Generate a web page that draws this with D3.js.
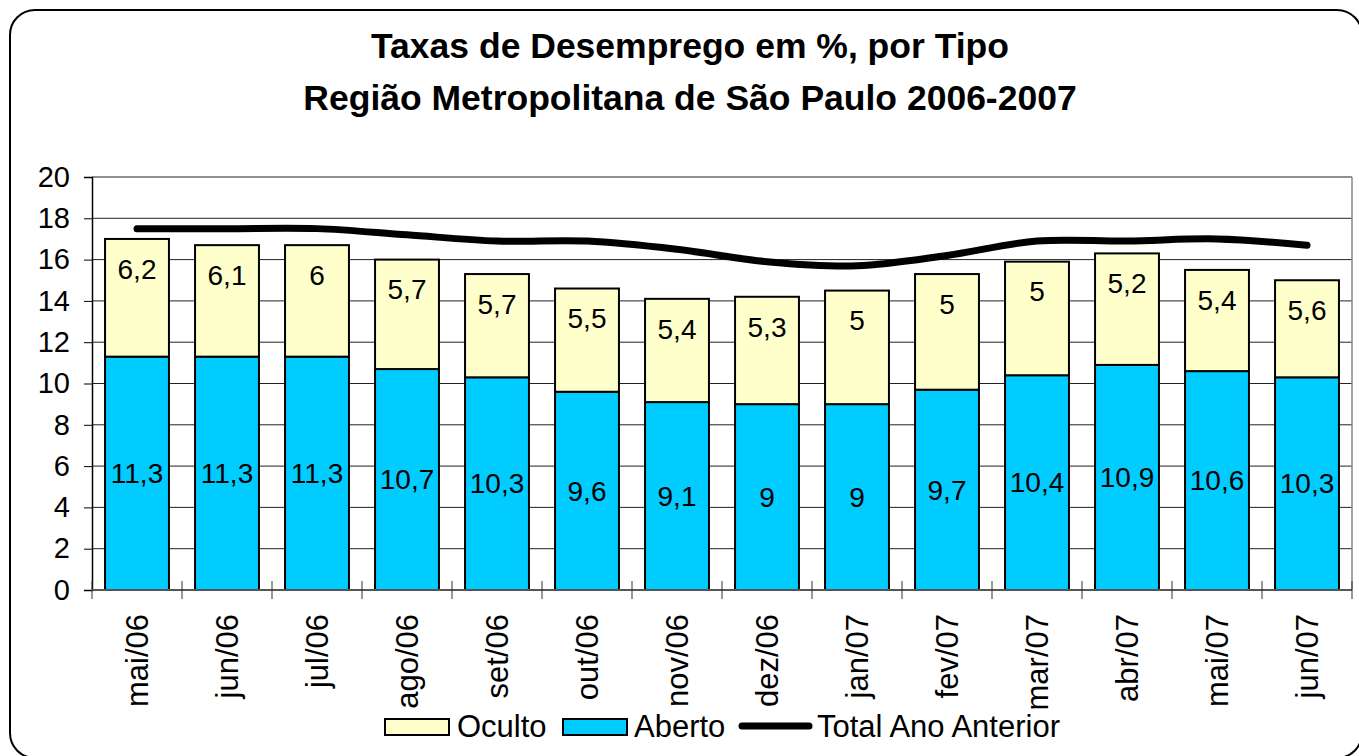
<!DOCTYPE html>
<html>
<head>
<meta charset="utf-8">
<script src="https://cdn.jsdelivr.net/npm/d3@7"></script>
<style>
  body { margin: 0; background: #fff; }
  text { font-family: "Liberation Sans", Arial, sans-serif; fill: #000; }
</style>
</head>
<body>
<div id="chart"></div>
<script>
// dados
var meses = ["mai/06","jun/06","jul/06","ago/06","set/06","out/06","nov/06","dez/06","jan/07","fev/07","mar/07","abr/07","mai/07","jun/07"];
var aberto = [11.3,11.3,11.3,10.7,10.3,9.6,9.1,9,9,9.7,10.4,10.9,10.6,10.3];
var oculto = [6.2,6.1,6,5.7,5.7,5.5,5.4,5.3,5,5,5,5.2,5.4,5.6];
// topo das barras como aparece no grafico
var total = [17.0,16.7,16.7,16.0,15.3,14.6,14.1,14.2,14.5,15.3,15.9,16.3,15.5,15.0];
var totalAnoAnterior = [17.5,17.5,17.5,17.2,16.9,16.9,16.5,15.9,15.7,16.2,16.9,16.9,17.0,16.7];
var yTicks = [0,2,4,6,8,10,12,14,16,18,20];

var W = 1359, H = 756;
var pLeft = 92, pRight = 1352, pTop = 177, pBottom = 590;
var corAberto = "#00ccff", corOculto = "#ffffcc";

var svg = d3.select("#chart").append("svg")
    .attr("width", W)
    .attr("height", H);

// moldura
svg.append("rect")
    .attr("x", 10).attr("y", 10)
    .attr("width", 1352).attr("height", 748)
    .attr("rx", 25).attr("ry", 25)
    .attr("fill", "#fff")
    .attr("stroke", "#000")
    .attr("stroke-width", 2);

// titulo
var titulo = svg.append("text")
    .attr("text-anchor", "middle")
    .attr("font-weight", "bold")
    .attr("font-size", 35.5);
titulo.append("tspan").attr("x", 690).attr("y", 58).text("Taxas de Desemprego em %, por Tipo");
titulo.append("tspan").attr("x", 690).attr("y", 110).text("Região Metropolitana de São Paulo 2006-2007");

var x = d3.scaleBand()
    .domain(meses)
    .range([pLeft, pRight])
    .paddingInner(0.29)
    .paddingOuter(0.145);

var y = d3.scaleLinear()
    .domain([0, 20])
    .range([pBottom, pTop]);

// grade
svg.append("g")
    .selectAll("line")
    .data(yTicks.filter(function(d){ return d > 0; }))
    .join("line")
    .attr("x1", pLeft).attr("x2", pRight)
    .attr("y1", function(d){ return y(d); })
    .attr("y2", function(d){ return y(d); })
    .attr("stroke", "#222")
    .attr("stroke-width", 1);

// borda direita da area
svg.append("line")
    .attr("x1", pRight).attr("x2", pRight)
    .attr("y1", pTop).attr("y2", pBottom)
    .attr("stroke", "#888").attr("stroke-width", 1.5);

// barras Aberto
svg.append("g")
    .selectAll("rect")
    .data(meses)
    .join("rect")
    .attr("x", function(d){ return x(d); })
    .attr("width", x.bandwidth())
    .attr("y", function(d, i){ return y(aberto[i]); })
    .attr("height", function(d, i){ return y(0) - y(aberto[i]); })
    .attr("fill", corAberto)
    .attr("stroke", "#000")
    .attr("stroke-width", 2);

// barras Oculto
svg.append("g")
    .selectAll("rect")
    .data(meses)
    .join("rect")
    .attr("x", function(d){ return x(d); })
    .attr("width", x.bandwidth())
    .attr("y", function(d, i){ return y(total[i]); })
    .attr("height", function(d, i){ return y(aberto[i]) - y(total[i]); })
    .attr("fill", corOculto)
    .attr("stroke", "#000")
    .attr("stroke-width", 2);

function fmt(v){ return String(v).replace(".", ","); }

// rotulos
svg.append("g")
    .selectAll("text")
    .data(meses)
    .join("text")
    .attr("x", function(d){ return x(d) + x.bandwidth() / 2; })
    .attr("y", function(d, i){ return (y(0) + y(aberto[i])) / 2; })
    .attr("dy", "0.35em")
    .attr("text-anchor", "middle")
    .attr("font-size", 28)
    .text(function(d, i){ return fmt(aberto[i]); });

svg.append("g")
    .selectAll("text")
    .data(meses)
    .join("text")
    .attr("x", function(d){ return x(d) + x.bandwidth() / 2; })
    .attr("y", function(d, i){ return y(total[i]) + 30; })
    .attr("dy", "0.35em")
    .attr("text-anchor", "middle")
    .attr("font-size", 28)
    .text(function(d, i){ return fmt(oculto[i]); });

// linha total ano anterior
var linha = d3.line()
    .x(function(d, i){ return x(meses[i]) + x.bandwidth() / 2; })
    .y(function(d){ return y(d); })
    .curve(d3.curveCatmullRom.alpha(0.5));

svg.append("path")
    .datum(totalAnoAnterior)
    .attr("d", linha)
    .attr("fill", "none")
    .attr("stroke", "#000")
    .attr("stroke-width", 7)
    .attr("stroke-linecap", "round");

// eixo y
var eixoY = svg.append("g")
    .attr("transform", "translate(" + pLeft + ",0)")
    .call(d3.axisLeft(y).tickValues(yTicks).tickSize(8).tickPadding(14));
eixoY.select(".domain").attr("stroke", "#000").attr("stroke-width", 1.5);
eixoY.selectAll(".tick line").attr("stroke", "#000");
eixoY.selectAll(".tick text")
    .attr("font-size", 29)
    .attr("font-family", "Liberation Sans, Arial, sans-serif")
    .attr("fill", "#000");

// eixo x
svg.append("line")
    .attr("x1", pLeft).attr("x2", pRight)
    .attr("y1", pBottom).attr("y2", pBottom)
    .attr("stroke", "#555").attr("stroke-width", 2);

var step = x.step();
svg.append("g")
    .selectAll("line")
    .data(d3.range(meses.length + 1))
    .join("line")
    .attr("x1", function(i){ return pLeft + i * step; })
    .attr("x2", function(i){ return pLeft + i * step; })
    .attr("y1", pBottom - 9).attr("y2", pBottom + 9)
    .attr("stroke", "#333").attr("stroke-width", 1);

svg.append("g")
    .selectAll("text")
    .data(meses)
    .join("text")
    .attr("transform", function(d){
        return "translate(" + (x(d) + x.bandwidth() / 2) + "," + 614 + ") rotate(-90)";
    })
    .attr("dy", "0.35em")
    .attr("text-anchor", "end")
    .attr("font-size", 31)
    .text(function(d){ return d; });

// legenda
var leg = svg.append("g");
leg.append("rect")
    .attr("x", 385).attr("y", 719).attr("width", 64).attr("height", 16)
    .attr("fill", corOculto).attr("stroke", "#000").attr("stroke-width", 2);
leg.append("text").attr("x", 457).attr("y", 737).attr("font-size", 31).text("Oculto");
leg.append("rect")
    .attr("x", 563).attr("y", 719).attr("width", 64).attr("height", 16)
    .attr("fill", corAberto).attr("stroke", "#000").attr("stroke-width", 2);
leg.append("text").attr("x", 634).attr("y", 737).attr("font-size", 31).text("Aberto");
leg.append("line")
    .attr("x1", 742).attr("x2", 809).attr("y1", 726).attr("y2", 726)
    .attr("stroke", "#000").attr("stroke-width", 7).attr("stroke-linecap", "round");
leg.append("text").attr("x", 817).attr("y", 737).attr("font-size", 31).text("Total Ano Anterior");
</script>
</body>
</html>
